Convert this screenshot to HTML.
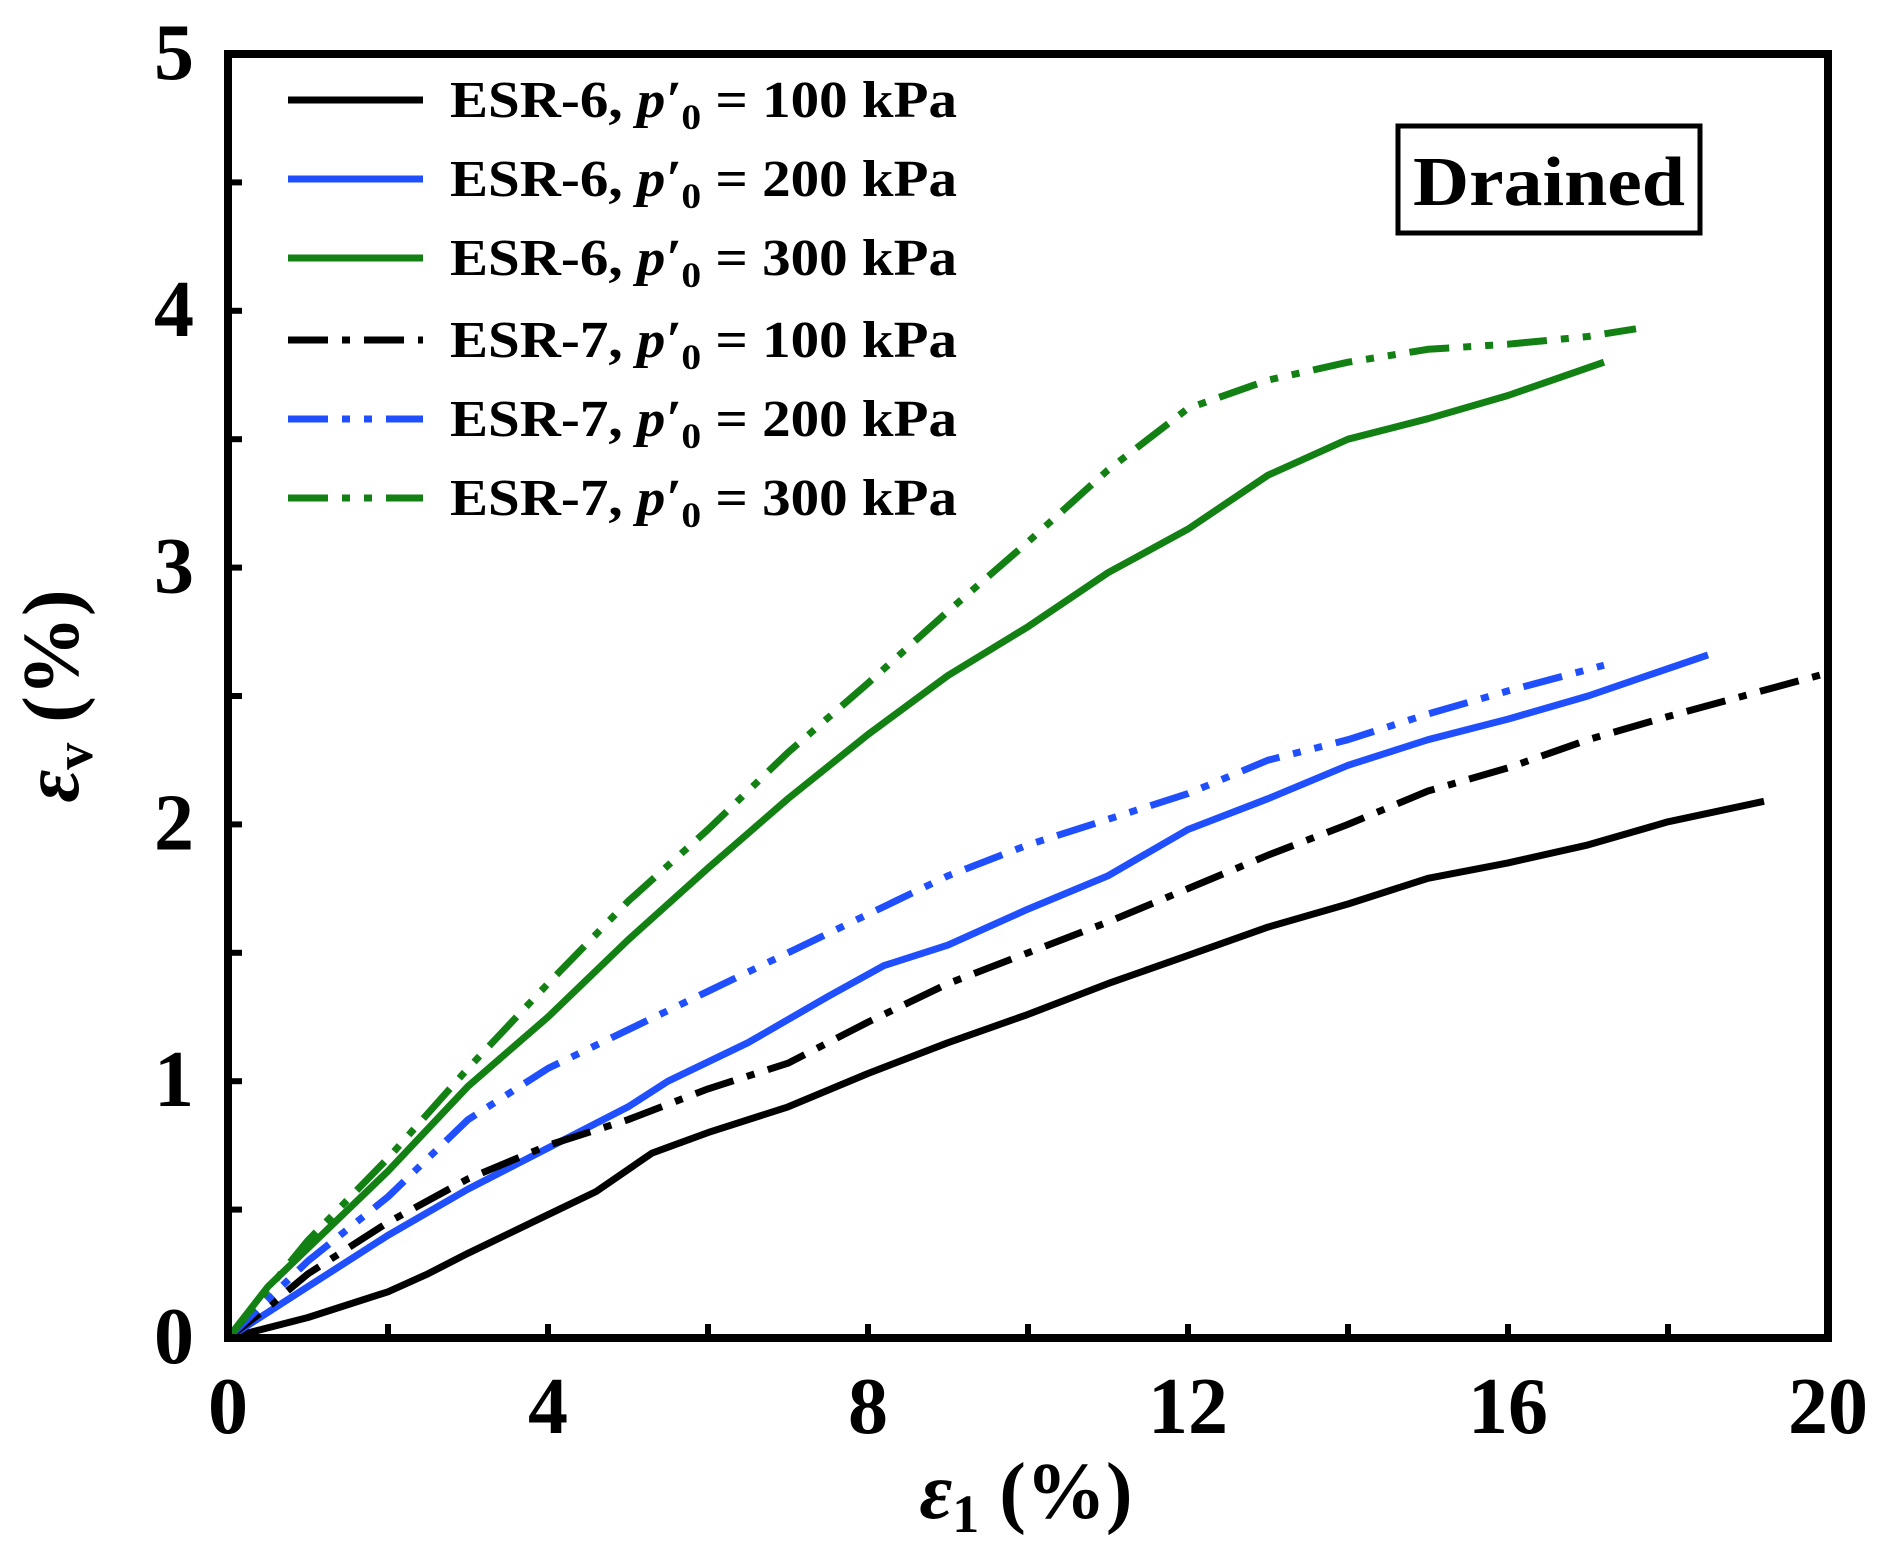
<!DOCTYPE html>
<html><head><meta charset="utf-8"><style>body{margin:0;background:#fff}svg{display:block}</style></head>
<body>
<svg id="chart" width="1880" height="1566" viewBox="0 0 1880 1566" xmlns="http://www.w3.org/2000/svg" font-family="'Liberation Serif', serif" font-weight="bold">
<g id="series"></g>
<g id="axes"></g>
<g id="legend"></g>
<g>
<rect x="1398" y="126" width="302" height="107" fill="#fff" stroke="#000" stroke-width="5"/>
<text x="1549" y="205" font-size="70" text-anchor="middle" textLength="272" lengthAdjust="spacingAndGlyphs">Drained</text>
</g>
<text x="1026" y="1518" font-size="80" text-anchor="middle"><tspan font-style="italic">ε</tspan><tspan font-size="54" dy="14">1</tspan><tspan dy="-14"> (%)</tspan></text>
<text transform="translate(78,696) rotate(-90)" font-size="80" text-anchor="middle"><tspan font-style="italic">ε</tspan><tspan font-size="54" dy="14">v</tspan><tspan dy="-14"> (%)</tspan></text>
</svg>
<script>
const xTicks=[0,4,8,12,16,20];
const yTicks=[0,1,2,3,4,5];
const seriesNames=["ESR-6, 100 kPa","ESR-6, 200 kPa","ESR-6, 300 kPa","ESR-7, 100 kPa","ESR-7, 200 kPa","ESR-7, 300 kPa"];
const legendPressure=["100","200","300","100","200","300"];
const legendSample=["ESR-6","ESR-6","ESR-6","ESR-7","ESR-7","ESR-7"];
const s1x=[0,1,2,2.5,3,4,4.6,5.3,6,7,8,9,10,11,12,13,14,15,16,17,18,19.2];
const s1y=[0,0.08,0.18,0.25,0.33,0.48,0.57,0.72,0.8,0.9,1.03,1.15,1.26,1.38,1.49,1.6,1.69,1.79,1.85,1.92,2.01,2.09];
const s2x=[0,1,2,3,4,5,5.5,6.5,7.5,8.2,9,9.5,10,11,12,13,14,15,16,17,18.5];
const s2y=[0,0.2,0.4,0.58,0.74,0.9,1.0,1.15,1.33,1.45,1.53,1.6,1.67,1.8,1.98,2.1,2.23,2.33,2.41,2.5,2.66];
const s3x=[0,0.5,1,2,3,4,5,6,7,8,9,10,11,12,13,14,15,16,17.2];
const s3y=[0,0.2,0.35,0.65,0.98,1.25,1.55,1.83,2.1,2.35,2.58,2.77,2.98,3.15,3.36,3.5,3.58,3.67,3.8];
const s4x=[0,0.5,1,2,3,4,5,6,7,8,9,10,11,12,13,14,15,16,17,18,20];
const s4y=[0,0.12,0.25,0.45,0.62,0.75,0.85,0.97,1.07,1.23,1.38,1.5,1.62,1.75,1.88,2.0,2.13,2.22,2.33,2.42,2.59];
const s5x=[0,1,2,3,4,5,6,7,8,9,10,11,12,13,14,15,16,17.2];
const s5y=[0,0.3,0.55,0.85,1.05,1.2,1.35,1.5,1.65,1.8,1.92,2.02,2.12,2.25,2.33,2.43,2.52,2.62];
const s6x=[0,1,2,3,4,5,6,7,8,9,10,11,12,13,14,15,16,17,17.6];
const s6y=[0,0.38,0.7,1.05,1.38,1.7,1.98,2.28,2.55,2.83,3.1,3.38,3.62,3.73,3.8,3.85,3.87,3.9,3.93];

const NS="http://www.w3.org/2000/svg";
const X0=228,X1=1828,Y0=1338,Y1=54;
const xs=v=>X0+(v-0)/(20-0)*(X1-X0);
const ys=v=>Y0-(v-0)/(5-0)*(Y0-Y1);
const colors=["#000","#1f4fff","#138013","#000","#1f4fff","#138013"];
const dashes=["","","","40 14 8 14","40 14 8 14 8 14","40 14 8 14 8 14"];
const X=[s1x,s2x,s3x,s4x,s5x,s6x],Y=[s1y,s2y,s3y,s4y,s5y,s6y];
const mk=(t,a,p)=>{const e=document.createElementNS(NS,t);for(const k in a)e.setAttribute(k,a[k]);p.appendChild(e);return e;};
const sg=document.getElementById('series');
for(let i=0;i<6;i++){
  const d=X[i].map((x,j)=>(j?'L':'M')+xs(x).toFixed(1)+','+ys(Y[i][j]).toFixed(1)).join(' ');
  const p=mk('path',{d:d,fill:'none',stroke:colors[i],'stroke-width':7,'stroke-linejoin':'round'},sg);
  if(dashes[i])p.setAttribute('stroke-dasharray',dashes[i]);
  
  
}
const ax=document.getElementById('axes');
const fr=mk('rect',{x:X0,y:Y1,width:X1-X0,height:Y0-Y1,fill:'none',stroke:'#000','stroke-width':8},ax);


for(let v=0;v<=20;v+=2){
  if(v===0||v===20)continue;
  const t=mk('line',{x1:xs(v),x2:xs(v),y1:Y0,y2:Y0-14,stroke:'#000','stroke-width':6},ax);
  
  
}
for(let v=0.5;v<5;v+=0.5){
  const t=mk('line',{x1:X0,x2:X0+14,y1:ys(v),y2:ys(v),stroke:'#000','stroke-width':6},ax);
  
  
}
xTicks.forEach(v=>{
  const t=mk('text',{x:xs(v),y:1433,'font-size':80,'text-anchor':'middle'},ax);
  t.textContent=v;
  
  
});
yTicks.forEach(v=>{
  const t=mk('text',{x:194,y:ys(v)+25,'font-size':80,'text-anchor':'end'},ax);
  t.textContent=v;
  
  
});
const lg=document.getElementById('legend');
const ly=[100,179,258,340,419,498];
for(let i=0;i<6;i++){
  const g=mk('g',{},lg);
  
  
  const l=mk('line',{x1:288,x2:423,y1:ly[i],y2:ly[i],stroke:colors[i],'stroke-width':7},g);
  if(dashes[i])l.setAttribute('stroke-dasharray',dashes[i]);
  const t=mk('text',{x:450,y:ly[i]+17,'font-size':52,textLength:507,lengthAdjust:'spacingAndGlyphs'},g);
  t.innerHTML=legendSample[i]+', <tspan font-style="italic">p′</tspan><tspan font-size="36" dy="12">0</tspan><tspan dy="-12"> = '+legendPressure[i]+' kPa</tspan>';
}
</script>
</body></html>
